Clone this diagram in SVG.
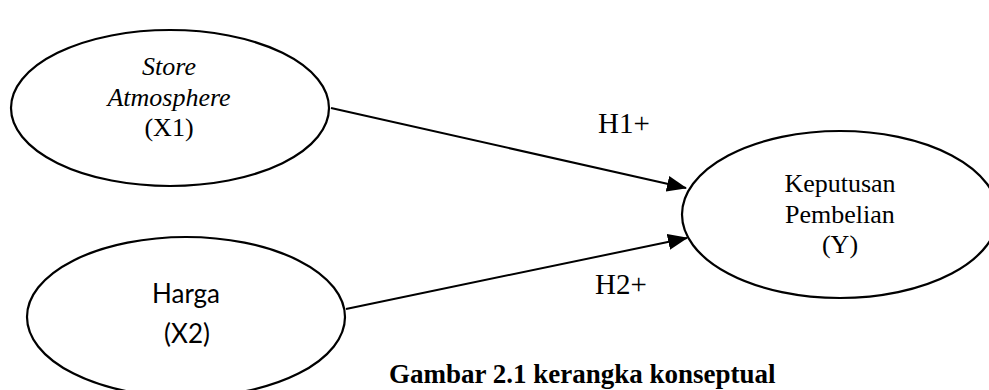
<svg xmlns="http://www.w3.org/2000/svg" width="989" height="390" viewBox="0 0 989 390">
<style>
.node{fill:#fff;stroke:#000;stroke-width:2.2}
.tr{font-family:"Liberation Serif","Times New Roman",serif;font-size:26px;fill:#000;text-anchor:middle}
.it{font-style:italic}
.sans{font-family:Lato,"Open Sans",sans-serif;font-size:26px;fill:#000;text-anchor:middle}
.lbl{font-family:"Liberation Serif","Times New Roman",serif;font-size:29px;fill:#000}
.cap{font-family:"Liberation Serif","Times New Roman",serif;font-size:27px;font-weight:bold;fill:#000}
.edge{stroke:#000;stroke-width:2;fill:none}
</style>
<defs>
<marker id="arr" markerWidth="10" markerHeight="8" refX="9.5" refY="4" orient="auto" markerUnits="strokeWidth">
<path d="M0,0 L10,4 L0,8 Z" fill="#000"/>
</marker>
</defs>
<rect width="989" height="390" fill="#fff"/>
<g id="connectors">
<line class="edge" x1="331" y1="108" x2="686" y2="188" marker-end="url(#arr)"/>
<line class="edge" x1="346" y1="309" x2="687" y2="238" marker-end="url(#arr)"/>
<text class="lbl" x="598" y="133">H1+</text>
<text class="lbl" x="595" y="294">H2+</text>
</g>
<g id="x1">
<ellipse class="node" cx="170" cy="108" rx="159" ry="78"/>
<text class="tr it" x="169" y="75">Store</text>
<text class="tr it" x="169" y="106">Atmosphere</text>
<text class="tr" x="169" y="136">(X1)</text>
</g>
<g id="x2">
<ellipse class="node" cx="186" cy="317" rx="159" ry="80"/>
<text class="sans" x="186" y="303">Harga</text>
<text class="sans" x="187" y="343">(X2)</text>
</g>
<g id="y">
<ellipse class="node" cx="840" cy="214.5" rx="158" ry="83.5"/>
<text class="tr" x="840" y="192">Keputusan</text>
<text class="tr" x="840" y="223">Pembelian</text>
<text class="tr" x="840" y="253">(Y)</text>
</g>
<text class="cap" x="389" y="383">Gambar 2.1 kerangka konseptual</text>
</svg>
